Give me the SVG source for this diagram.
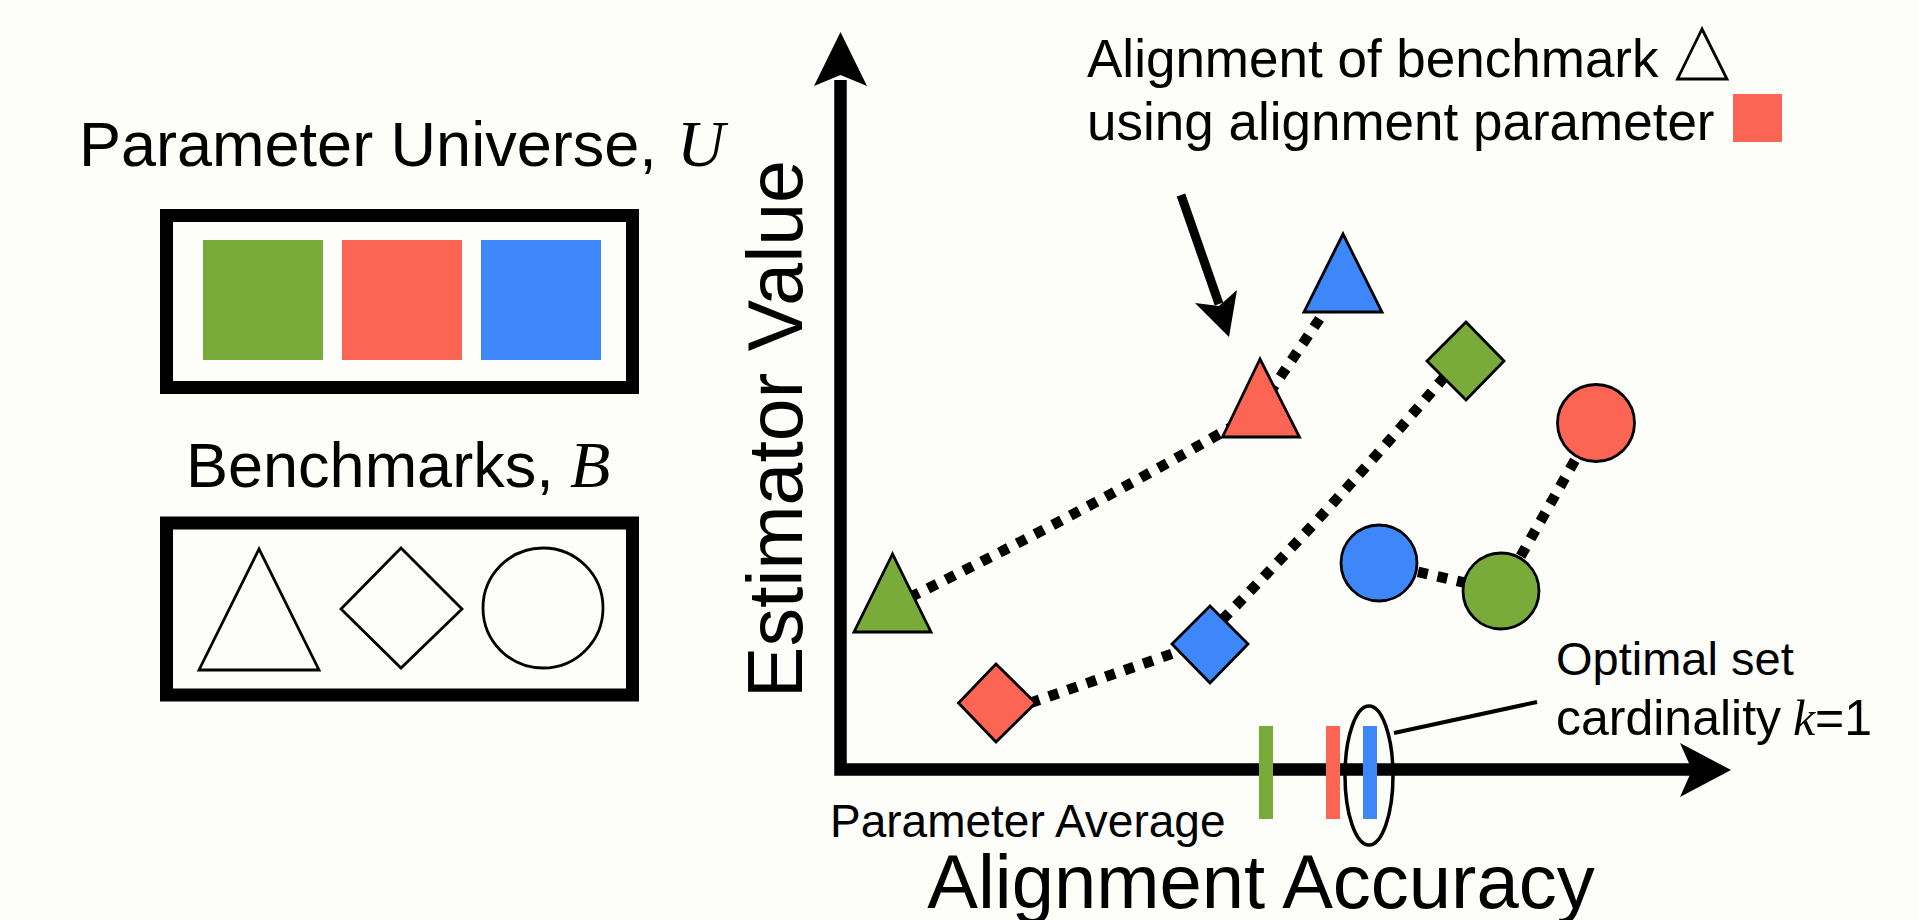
<svg xmlns="http://www.w3.org/2000/svg" width="1918" height="920" viewBox="0 0 1918 920">
<defs>
<style>
.t{font-family:"Liberation Sans",Arial,Helvetica,sans-serif;fill:#000}
.m{font-family:"Liberation Serif","Times New Roman",serif;font-style:italic;fill:#000}
.box{fill:none;stroke:#000;stroke-width:13}
.sh{stroke:#000;stroke-width:2.8;stroke-linejoin:miter}
.g{fill:#79ab3b}.r{fill:#fc6454}.b{fill:#3d87fb}.w{fill:#fdfef9}
.dot{fill:none;stroke:#000;stroke-width:10.5;stroke-dasharray:10 10}
</style>
</defs>
<rect width="1918" height="920" fill="#fdfef9"/>

<g id="universe">
<text class="t" x="79" y="166" font-size="63">Parameter Universe,</text>
<text class="m" x="677" y="166" font-size="66">U</text>
<rect class="box" x="166.5" y="215.5" width="466" height="172"/>
<rect class="g" x="203" y="240" width="120" height="120"/>
<rect class="r" x="342" y="240" width="120" height="120"/>
<rect class="b" x="481" y="240" width="120" height="120"/>
</g>

<g id="benchmarks">
<text class="t" x="186" y="487" font-size="63">Benchmarks,</text>
<text class="m" x="570" y="487" font-size="66">B</text>
<rect class="box" x="166.5" y="523" width="466" height="172"/>
<polygon class="sh w" points="259,549 199,670 319,670"/>
<polygon class="sh w" points="401,548 462,609 401,668 341,609"/>
<circle class="sh w" cx="543" cy="608" r="60"/>
</g>

<g id="axes">
<path d="M840.5,80 L840.5,769.5 L1695,769.5" fill="none" stroke="#000" stroke-width="12.5" stroke-linejoin="miter"/>
<polygon points="840.5,32 867,86 840.5,75 814,86" fill="#000"/>
<polygon points="1731,770 1680,743 1692,770 1680,797" fill="#000"/>
<text class="t" font-size="77" text-anchor="middle" transform="translate(802,429) rotate(-90)">Estimator Value</text>
<text class="t" x="1261" y="908" font-size="76" text-anchor="middle">Alignment Accuracy</text>
</g>

<g id="connectors">
<path class="dot" d="M892,606 Q1078,516 1261,410"/>
<path class="dot" d="M1258,410 L1339,290"/>
<path class="dot" d="M1030,703 L1180,651"/>
<path class="dot" d="M1222,620 Q1340,500 1452,368"/>
<path class="dot" d="M1379,563 L1501,591"/>
<path class="dot" d="M1501,591 L1596,423"/>
</g>

<g id="points">
<polygon class="sh g" points="892.5,554 854,632 931,632"/>
<polygon class="sh r" points="1260,359 1222.5,437 1299.5,437"/>
<polygon class="sh b" points="1343,234 1304,312 1382,312"/>
<polygon class="sh r" points="996,664 1035.5,703 996,742 958.5,703"/>
<polygon class="sh b" points="1210,606 1248,644 1210,683 1172,644"/>
<polygon class="sh g" points="1466,322 1504,361 1466,400 1427,361"/>
<circle class="sh b" cx="1379" cy="563" r="38"/>
<circle class="sh g" cx="1501" cy="591" r="38"/>
<circle class="sh r" cx="1596" cy="423" r="38.5"/>
</g>

<g id="parameter-average">
<rect class="g" x="1259" y="726" width="14" height="93"/>
<rect class="r" x="1326" y="726" width="14" height="93"/>
<rect class="b" x="1363" y="726" width="14" height="93"/>
<text class="t" x="830" y="837" font-size="46">Parameter Average</text>
</g>

<g id="optimal">
<ellipse cx="1369" cy="775.5" rx="24" ry="69.5" fill="none" stroke="#000" stroke-width="3.5"/>
<line x1="1394" y1="733" x2="1537" y2="702" stroke="#000" stroke-width="4"/>
<text class="t" x="1556" y="675" font-size="47">Optimal set</text>
<text class="t" x="1556" y="735" font-size="50">cardinality</text>
<text class="m" x="1793" y="735" font-size="50">k</text>
<text class="t" x="1815" y="735" font-size="50">=1</text>
</g>

<g id="annotation">
<text class="t" x="1087" y="77" font-size="53">Alignment of benchmark</text>
<polygon class="sh w" points="1702,29 1677.5,79 1727,79"/>
<text class="t" x="1087" y="140" font-size="53">using alignment parameter</text>
<rect class="r" x="1733" y="94" width="49" height="48"/>
<line x1="1181" y1="195" x2="1219" y2="304" stroke="#000" stroke-width="9"/>
<polygon points="1229,337 1195,303 1219,306 1237,290" fill="#000"/>
</g>
</svg>
